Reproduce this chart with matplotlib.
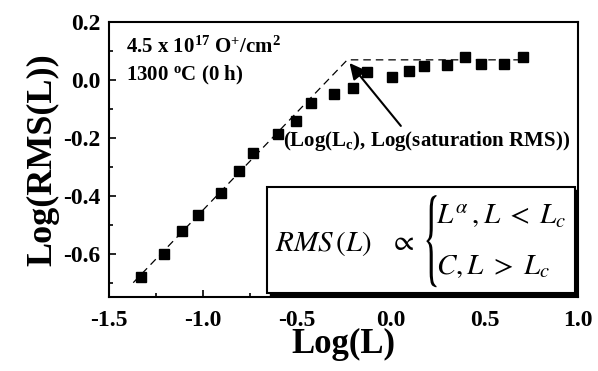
import matplotlib
matplotlib.use("Agg")
import matplotlib.pyplot as plt
from matplotlib.patches import Rectangle, PathPatch
from matplotlib.textpath import TextPath
from matplotlib.font_manager import FontProperties
from matplotlib.transforms import Affine2D

plt.rcParams['font.family'] = ['Liberation Serif', 'DejaVu Serif']
plt.rcParams['mathtext.fontset'] = 'custom'
plt.rcParams['mathtext.rm'] = 'Liberation Serif:bold'
plt.rcParams['mathtext.it'] = 'Liberation Serif:bold:italic'
plt.rcParams['mathtext.bf'] = 'Liberation Serif:bold'
plt.rcParams['mathtext.default'] = 'it'

# data
log_L = [-1.329, -1.207, -1.108, -1.026, -0.903, -0.807, -0.730, -0.599, -0.503,
         -0.423, -0.301, -0.202, -0.125, 0.006, 0.099, 0.179, 0.302, 0.398, 0.483,
         0.606, 0.707]
log_rms = [-0.679, -0.600, -0.521, -0.466, -0.390, -0.314, -0.252, -0.186, -0.143,
           -0.079, -0.050, -0.028, 0.028, 0.010, 0.031, 0.048, 0.052, 0.079, 0.055,
           0.055, 0.079]
fit_x = [-1.37, -0.23, 0.73]
fit_y = [-0.70, 0.069, 0.069]
xticks = [-1.5, -1.0, -0.5, 0.0, 0.5, 1.0]
yticks = [-0.6, -0.4, -0.2, 0.0, 0.2]

fig = plt.figure(figsize=(5.98, 3.71), dpi=100)
ax = fig.add_axes([0.182, 0.199, 0.785, 0.742])

ax.plot(fit_x, fit_y, color='black', lw=0.9, ls=(0, (6, 4)))
ax.plot(log_L, log_rms, ls='none', marker='s', ms=7, color='black')

ax.set_xlim(-1.5, 1.0)
ax.set_ylim(-0.75, 0.2)
ax.set_xticks(xticks)
ax.set_yticks(yticks)
ax.set_xticks([-1.25, -0.75, -0.25, 0.25, 0.75], minor=True)
ax.set_yticks([-0.7, -0.5, -0.3, -0.1, 0.1], minor=True)
ax.set_xticklabels([f"{v:.1f}" for v in xticks], fontweight='bold')
ax.set_yticklabels([f"{v:.1f}" for v in yticks], fontweight='bold')
ax.tick_params(which='both', direction='in', top=False, right=False, width=1.2,
               labelsize=17)
ax.tick_params(axis='x', pad=9)
ax.tick_params(axis='y', pad=6)
ax.tick_params(which='major', length=5)
ax.tick_params(which='minor', length=3)
for s in ax.spines.values():
    s.set_linewidth(1.5)

ax.set_xlabel('Log(L)', fontsize=25, fontweight='bold', labelpad=-2)
ax.set_ylabel('Log(RMS(L))', fontsize=26, fontweight='bold', labelpad=3)

ax.text(0.037, 0.909, r'4.5 x 10$^{\mathrm{17}}$ O$^{\mathrm{+}}$/cm$^{\mathrm{2}}$',
        transform=ax.transAxes, fontsize=15, fontweight='bold', va='center')
ax.text(0.037, 0.804, r'1300 $^{\mathrm{o}}$C (0 h)', transform=ax.transAxes,
        fontsize=15, fontweight='bold', va='center')

ax.annotate(r'(Log(L$_{\mathrm{c}}$), Log(saturation RMS))', xy=(-0.218, 0.058),
            xytext=(-0.575, -0.21), fontsize=15, fontweight='bold', va='center',
            arrowprops=dict(arrowstyle='-|>', color='black', lw=1.5,
                            mutation_scale=24, shrinkA=0, shrinkB=0,
                            relpos=(0.42, 1.0)))

# equation box with shadow
bx0, by0, bw, bh = 0.337, 0.015, 0.656, 0.385
ax.add_patch(Rectangle((bx0 + 0.006, by0 - 0.01), bw, bh, transform=ax.transAxes,
                       facecolor='black', edgecolor='black', lw=1, zorder=4))
ax.add_patch(Rectangle((bx0, by0), bw, bh, transform=ax.transAxes,
                       facecolor='white', edgecolor='black', lw=1.5, zorder=5))
eq_kw = dict(transform=ax.transAxes, va='center', ha='left', zorder=6,
             math_fontfamily='stix', fontweight='normal')
ax.text(0.354, 0.196, r'$RMS\,(L)$', fontsize=21, **eq_kw)
ax.text(0.597, 0.196, r'$\propto$', fontsize=21, **eq_kw)
ax.text(0.698, 0.292, r'$L^{\alpha}\,, L\;<\;L_c$', fontsize=21, **eq_kw)
ax.text(0.698, 0.112, r'$C, L\;>\;L_c$', fontsize=21, **eq_kw)

# curly brace glyph stretched to the height of the two cases
tp = TextPath((0, 0), "{", size=1, prop=FontProperties(family='STIXGeneral'))
ext = tp.get_extents()
x0, y0, w, h = 0.676, 0.036, 0.022, 0.335
tr = (Affine2D().translate(-ext.x0, -ext.y0)
      .scale(w / ext.width, h / ext.height).translate(x0, y0) + ax.transAxes)
ax.add_patch(PathPatch(tp, transform=tr, facecolor='black', edgecolor='none', zorder=6))

fig.savefig('out.png', dpi=100)
